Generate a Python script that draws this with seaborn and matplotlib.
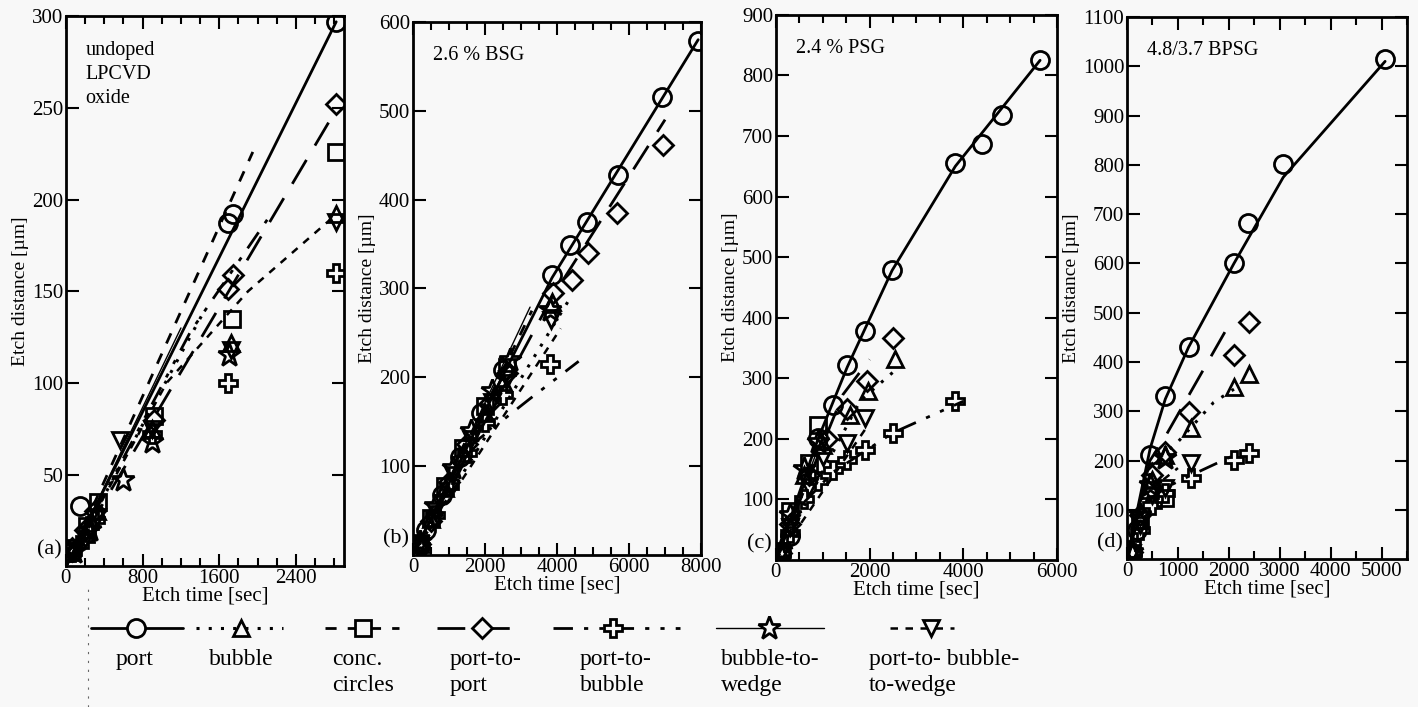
import matplotlib
matplotlib.use("Agg")
import matplotlib.pyplot as plt
import seaborn as sns
from matplotlib.lines import Line2D
from matplotlib.ticker import MultipleLocator

SERIES = ["port", "bubble", "conc", "p2p", "p2b", "b2w", "ptbtw"]
LEGEND_TEXT = ["port", "bubble", "conc.\ncircles", "port-to-\nport", "port-to-\nbubble",
               "bubble-to-\nwedge", "port-to- bubble-\nto-wedge"]
PANEL_TAGS = ["(a)", "(b)", "(c)", "(d)"]
PANEL_NOTES = ["undoped\nLPCVD\noxide", "2.6 % BSG", "2.4 % PSG", "4.8/3.7 BPSG"]
X_MAX = [2900, 8000, 6000, 5500]
Y_MAX = [300, 600, 900, 1100]
X_LABEL_STEP = [800, 2000, 2000, 1000]
X_MINOR_STEP = [200, 500, 500, 500]
Y_STEP = [50, 100, 100, 100]

# measured points: series -> (etch time [sec], etch distance [um])
A_PTS = {
    "port": ([50, 150, 1690, 1740, 2820], [8, 33, 187, 192, 297]),
    "bubble": ([60, 200, 320, 900, 1720, 2820], [8, 18, 30, 75, 122, 192]),
    "conc": ([60, 220, 330, 920, 1730, 2820], [10, 22, 35, 82, 135, 226]),
    "p2p": ([60, 200, 300, 920, 1690, 1740, 2820], [10, 20, 30, 80, 151, 159, 252]),
    "p2b": ([60, 200, 300, 900, 1690, 2820], [8, 15, 25, 72, 100, 160]),
    "b2w": ([80, 250, 600, 900, 1700], [8, 20, 47, 68, 115]),
    "ptbtw": ([60, 200, 320, 560, 900, 1720, 2820], [8, 15, 27, 69, 75, 118, 188]),
}
B_PTS = {
    "port": ([150, 350, 800, 1300, 1900, 2500, 3860, 4360, 4830, 5690, 6920, 7920],
             [8, 28, 68, 110, 160, 208, 315, 349, 375, 428, 515, 578]),
    "bubble": ([200, 500, 900, 1400, 2000, 2500, 3850], [12, 40, 75, 115, 160, 195, 285]),
    "conc": ([200, 500, 900, 1400, 2000, 2600], [14, 42, 78, 120, 168, 212]),
    "p2p": ([200, 500, 1000, 1500, 2100, 2600, 3880, 4420, 4860, 5670, 6940],
            [12, 38, 82, 125, 170, 205, 295, 310, 340, 385, 462]),
    "p2b": ([200, 600, 1000, 1500, 2000, 2500, 3800], [10, 45, 78, 115, 150, 180, 215]),
    "b2w": ([200, 600, 1100, 1600, 2200, 2700, 3800], [15, 55, 98, 140, 185, 220, 276]),
    "ptbtw": ([200, 600, 1100, 1600, 2200, 2600, 3820], [12, 50, 90, 130, 172, 198, 265]),
}
C_PTS = {
    "port": ([100, 300, 900, 1220, 1520, 1900, 2480, 3830, 4400, 4830, 5640],
             [10, 40, 202, 256, 322, 378, 479, 656, 686, 734, 825]),
    "bubble": ([100, 300, 600, 1000, 1580, 1970, 2540], [12, 55, 140, 190, 240, 279, 331]),
    "conc": ([100, 300, 700, 900], [15, 80, 160, 222]),
    "p2p": ([100, 300, 700, 1100, 1520, 1940, 2500], [12, 60, 140, 200, 250, 296, 367]),
    "p2b": ([100, 300, 600, 900, 1220, 1520, 1900, 2500, 3830],
            [10, 45, 100, 130, 149, 165, 182, 210, 263]),
    "b2w": ([100, 300, 600, 900], [15, 75, 150, 195]),
    "ptbtw": ([100, 300, 700, 1000, 1520, 1900], [12, 55, 120, 170, 193, 235]),
}
D_PTS = {
    "port": ([100, 200, 455, 752, 1208, 2100, 2376, 3069, 5069],
             [10, 60, 212, 331, 431, 600, 682, 802, 1014]),
    "bubble": ([100, 250, 500, 752, 1248, 2099, 2396], [15, 80, 160, 212, 267, 349, 375]),
    "conc": ([100, 250, 450, 750], [20, 80, 140, 125]),
    "p2p": ([100, 250, 500, 752, 1208, 2099, 2396], [15, 90, 170, 218, 298, 414, 482]),
    "p2b": ([100, 250, 500, 752, 1248, 2099, 2396], [12, 60, 110, 135, 165, 202, 216]),
    "b2w": ([100, 250, 450, 750], [15, 90, 150, 205]),
    "ptbtw": ([100, 250, 500, 752, 1248], [12, 70, 130, 145, 196]),
}

# fitted curves drawn through each data set
A_FIT = {
    "port": ([0, 2820], [0, 297]),
    "bubble": ([0, 1450], [0, 140]),
    "conc": ([0, 1950], [0, 226]),
    "p2p": ([0, 2740], [0, 242]),
    "p2b": ([0, 1300, 2100], [0, 128, 189]),
    "b2w": ([0, 1200], [0, 130]),
    "ptbtw": ([0, 1050, 1900, 2800], [0, 100, 150, 191]),
}
B_FIT = {
    "port": ([0, 3860, 7920], [0, 312, 580]),
    "bubble": ([0, 4300], [0, 285]),
    "conc": ([0, 3300], [0, 275]),
    "p2p": ([0, 3860, 7000], [0, 290, 490]),
    "p2b": ([0, 1500, 3250, 4600], [0, 120, 176, 218]),
    "b2w": ([0, 3250], [0, 279]),
    "ptbtw": ([0, 4100], [0, 255]),
}
C_FIT = {
    "port": ([0, 900, 1520, 2480, 3830, 5640], [0, 200, 318, 478, 650, 825]),
    "bubble": ([0, 1800, 2500], [0, 263, 310]),
    "conc": ([0, 900], [0, 190]),
    "p2p": ([0, 1430, 2000], [0, 273, 331]),
    "p2b": ([0, 600, 1220, 2500, 4000], [0, 95, 145, 210, 262]),
    "b2w": ([0, 1000], [0, 205]),
    "ptbtw": ([0, 1900], [0, 215]),
}
D_FIT = {
    "port": ([0, 455, 752, 1208, 2100, 3069, 5069], [0, 225, 325, 430, 600, 775, 1010]),
    "bubble": ([0, 450, 990, 1700, 2100], [0, 190, 237, 318, 345]),
    "conc": ([0, 450], [0, 170]),
    "p2p": ([0, 450, 752, 2000], [0, 200, 249, 475]),
    "p2b": ([0, 400, 851, 1250, 2040], [0, 120, 150, 170, 208]),
    "b2w": ([0, 400], [0, 180]),
    "ptbtw": ([0, 450, 1000], [0, 140, 185]),
}

STYLE = {
    "port": dict(marker="o", ms=13, ls="-", lw=2.0),
    "bubble": dict(marker="^", ms=12, ls=(0, (1, 3)), lw=2.2),
    "conc": dict(marker="s", ms=11, ls=(0, (4, 4)), lw=2.0),
    "p2p": dict(marker="D", ms=10, ls=(0, (10, 6)), lw=2.0),
    "p2b": dict(marker="P", ms=13, ls=(0, (7, 4, 1.5, 4, 1.5, 4)), lw=2.0),
    "b2w": dict(marker="*", ms=17, ls="-", lw=1.0),
    "ptbtw": dict(marker="v", ms=12, ls=(0, (3, 3)), lw=1.8),
}

BG = "#f8f8f8"
sns.set_theme(style="ticks")
plt.rcParams["font.family"] = ["Liberation Serif", "DejaVu Serif"]
plt.rcParams.update({"text.color": "black", "axes.labelcolor": "black",
                     "xtick.color": "black", "ytick.color": "black",
                     "axes.edgecolor": "black"})

fig = plt.figure(figsize=(14.18, 7.07), dpi=100, facecolor=BG)
rects = [[0.0465, 0.199, 0.196, 0.778],
         [0.2913, 0.215, 0.2031, 0.754],
         [0.5472, 0.208, 0.1982, 0.771],
         [0.7948, 0.209, 0.1975, 0.767]]

panels = [(A_PTS, A_FIT), (B_PTS, B_FIT), (C_PTS, C_FIT), (D_PTS, D_FIT)]
for i, (pts, fits) in enumerate(panels):
    ax = fig.add_axes(rects[i], facecolor=BG)
    for s in SERIES:
        st = STYLE[s]
        ft, fd = fits[s]
        sns.lineplot(x=ft, y=fd, ax=ax, color="black", linestyle=st["ls"],
                     linewidth=st["lw"], estimator=None, sort=False)
        t, d = pts[s]
        sns.lineplot(x=t, y=d, ax=ax, color="black", marker=st["marker"], linestyle="",
                     mfc="none", mec="black", mew=2.0, ms=st["ms"],
                     estimator=None, sort=False)
    ax.set_xlim(0, X_MAX[i])
    ax.set_ylim(0, Y_MAX[i])
    ax.xaxis.set_major_locator(MultipleLocator(X_LABEL_STEP[i]))
    ax.xaxis.set_minor_locator(MultipleLocator(X_MINOR_STEP[i]))
    ax.set_yticks(list(range(Y_STEP[i], Y_MAX[i] + 1, Y_STEP[i])))
    ax.tick_params(which="both", direction="in", top=True, right=True,
                   labelsize=15, pad=2, width=1.5)
    ax.tick_params(which="major", length=9)
    ax.tick_params(which="minor", length=6)
    for sp in ax.spines.values():
        sp.set_linewidth(2)
    ax.set_xlabel("Etch time [sec]", fontsize=15, labelpad=-1)
    ax.set_ylabel("Etch distance [µm]", fontsize=14, labelpad=2)
    ax.text(-0.015, 0.03, PANEL_TAGS[i], transform=ax.transAxes, ha="right",
            va="center", fontsize=16)
    ax.text(0.07, 0.955, PANEL_NOTES[i], transform=ax.transAxes, ha="left",
            va="top", fontsize=14.5, linespacing=1.35)

# legend strip below the panels
lg = fig.add_axes([0, 0, 1, 0.2], facecolor=BG)
lg.set_xlim(0, 1418)
lg.set_ylim(0, 141)
lg.axis("off")
handle_x = [(91, 136, 183), (196, 241, 283), (325, 363, 399), (437, 482, 522),
            (553, 613, 680), (716, 769, 824), (890, 931, 954)]
text_x = [116, 209, 332, 450, 580, 721, 869]
for s, (x0, xm, x1), tx, lab in zip(SERIES, handle_x, text_x, LEGEND_TEXT):
    st = STYLE[s]
    lg.add_line(Line2D([x0, x1], [79, 79], color="black", ls=st["ls"], lw=st["lw"]))
    lg.add_line(Line2D([xm], [79], marker=st["marker"], ms=st["ms"], mfc=BG,
                       mec="black", mew=2.0, ls=""))
    lg.text(tx, 58, lab, ha="left", va="top", fontsize=17, linespacing=1.3)
lg.add_line(Line2D([88, 88], [0, 120], color="#666666", lw=0.8, ls=(0, (2, 6))))

fig.savefig("out.png", dpi=100, facecolor=BG)
